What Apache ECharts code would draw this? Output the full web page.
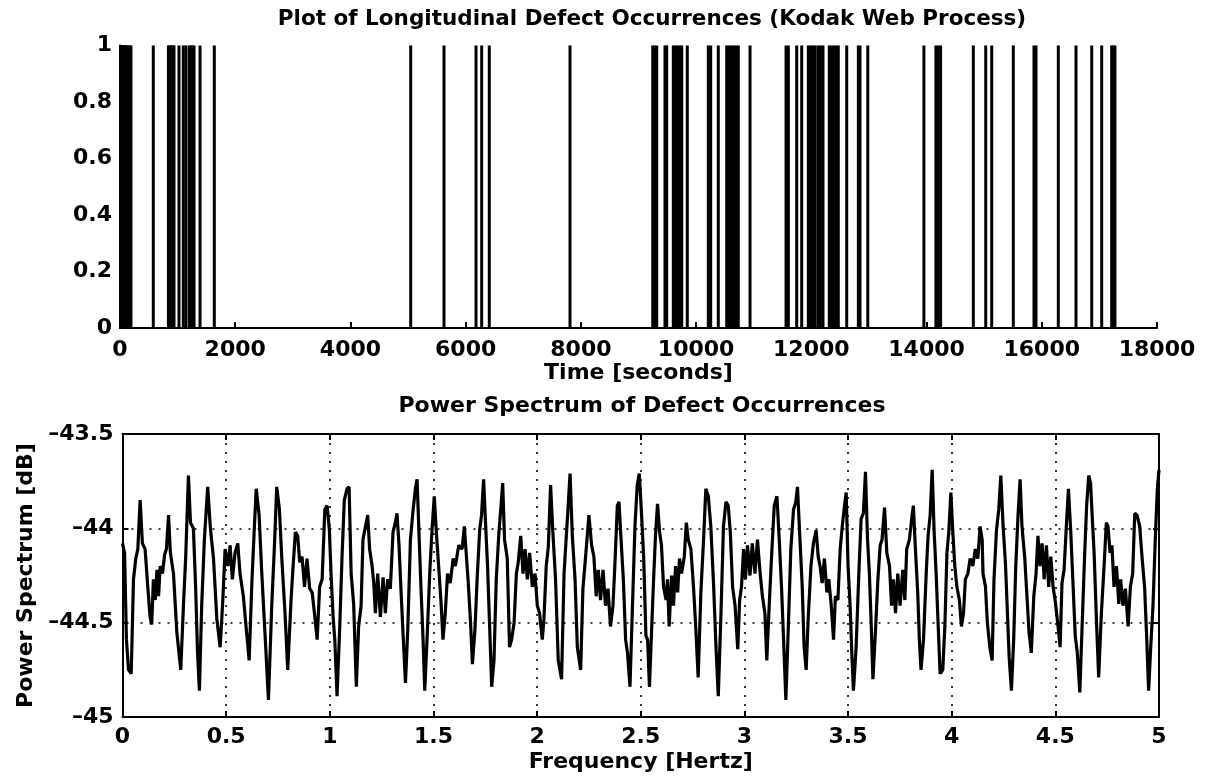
<!DOCTYPE html>
<html><head><meta charset="utf-8">
<script src="https://cdn.jsdelivr.net/npm/echarts/dist/echarts.min.js"></script>
<style>html,body{margin:0;padding:0;background:#fff}#c{width:1211px;height:778px}</style>
</head><body><div id="c"></div>
<script>
const topTitle = 'Plot of Longitudinal Defect Occurrences (Kodak Web Process)';
const bottomTitle = 'Power Spectrum of Defect Occurrences';
const topXName = 'Time [seconds]';
const bottomXName = 'Frequency [Hertz]';
const bottomYName = 'Power Spectrum [dB]';

// defect occurrence times (seconds), each drawn as a line of height 1
const defectTimes = [10, 30, 50, 70, 90, 110, 130, 150, 170, 190, 578, 840, 860, 880, 900, 920, 937, 1024, 1099, 1146, 1205, 1230, 1258, 1285, 1389, 1637, 5046, 5624, 6180, 6278, 6410, 7811, 9247, 9280, 9316, 9460, 9490, 9604, 9640, 9677, 9714, 9750, 9847, 10212, 10253, 10385, 10531, 10570, 10610, 10650, 10690, 10732, 10936, 11561, 11601, 11746, 11833, 11948, 11987, 12026, 12065, 12115, 12158, 12202, 12312, 12350, 12390, 12430, 12468, 12614, 12816, 12845, 12980, 13954, 14162, 14203, 14244, 14812, 15027, 15131, 15506, 15865, 15900, 16287, 16594, 16867, 17040, 17213, 17242, 17270];
const defectLevel = 1;

// power spectrum: [frequency Hz, power dB]
const spectrum = [
[0.000,-44.08],[0.010,-44.13],[0.019,-44.59],[0.029,-44.75],[0.042,-44.77],[0.053,-44.27],[0.064,-44.16],[0.074,-44.11],[0.085,-43.85],[0.096,-44.08],[0.109,-44.11],[0.122,-44.31],[0.133,-44.47],[0.141,-44.51],[0.149,-44.27],[0.158,-44.38],[0.166,-44.22],[0.174,-44.36],[0.182,-44.20],[0.193,-44.24],[0.203,-44.14],[0.212,-44.11],[0.222,-43.93],[0.231,-44.13],[0.246,-44.24],[0.262,-44.55],[0.281,-44.75],[0.294,-44.41],[0.305,-44.15],[0.318,-43.72],[0.328,-43.97],[0.342,-44.00],[0.353,-44.32],[0.362,-44.66],[0.371,-44.86],[0.382,-44.41],[0.395,-44.06],[0.411,-43.78],[0.424,-44.00],[0.439,-44.16],[0.455,-44.48],[0.471,-44.63],[0.484,-44.38],[0.495,-44.11],[0.508,-44.20],[0.519,-44.09],[0.530,-44.27],[0.543,-44.13],[0.556,-44.08],[0.567,-44.24],[0.583,-44.36],[0.596,-44.52],[0.611,-44.70],[0.624,-44.29],[0.635,-44.02],[0.645,-43.79],[0.659,-43.93],[0.672,-44.24],[0.688,-44.57],[0.704,-44.91],[0.720,-44.41],[0.733,-44.09],[0.744,-43.78],[0.757,-43.90],[0.768,-44.15],[0.784,-44.45],[0.797,-44.75],[0.813,-44.38],
[0.823,-44.20],[0.834,-44.02],[0.845,-44.04],[0.855,-44.18],[0.866,-44.15],[0.878,-44.31],[0.890,-44.16],[0.903,-44.32],[0.915,-44.34],[0.926,-44.45],[0.939,-44.59],[0.951,-44.31],[0.963,-44.27],[0.976,-43.90],[0.987,-43.88],[0.998,-44.01],[1.006,-44.24],[1.016,-44.47],[1.024,-44.59],[1.035,-44.89],[1.048,-44.52],[1.059,-44.15],[1.070,-43.85],[1.083,-43.79],[1.093,-43.78],[1.103,-44.24],[1.115,-44.40],[1.128,-44.84],[1.139,-44.52],[1.151,-44.41],[1.160,-44.06],[1.172,-43.99],[1.183,-43.93],[1.192,-44.11],[1.204,-44.20],[1.212,-44.29],[1.220,-44.45],[1.231,-44.24],[1.244,-44.47],[1.257,-44.26],[1.268,-44.45],[1.279,-44.27],[1.292,-44.32],[1.305,-44.02],[1.316,-43.97],[1.324,-43.92],[1.334,-44.09],[1.344,-44.34],[1.353,-44.55],[1.365,-44.82],[1.376,-44.54],[1.389,-44.06],[1.402,-43.90],[1.413,-43.79],[1.421,-43.74],[1.430,-44.02],[1.440,-44.32],[1.450,-44.59],[1.458,-44.86],[1.469,-44.59],[1.482,-44.24],[1.493,-44.01],[1.504,-43.83],[1.514,-44.02],[1.525,-44.20],[1.537,-44.40],[1.546,-44.59],[1.557,-44.45],[1.568,-44.24],[1.581,-44.29],[1.595,-44.16],[1.606,-44.20],[1.622,-44.09],[1.638,-44.11],[1.649,-43.99],
[1.668,-44.29],[1.679,-44.50],[1.688,-44.72],[1.700,-44.54],[1.712,-44.24],[1.723,-44.01],[1.732,-43.93],[1.742,-43.74],[1.752,-43.99],[1.761,-44.20],[1.771,-44.52],[1.781,-44.84],[1.792,-44.70],[1.803,-44.27],[1.816,-44.02],[1.826,-43.88],[1.834,-43.76],[1.843,-44.06],[1.856,-44.16],[1.867,-44.63],[1.877,-44.59],[1.889,-44.50],[1.900,-44.24],[1.909,-44.18],[1.921,-44.04],[1.932,-44.24],[1.942,-44.11],[1.953,-44.27],[1.964,-44.13],[1.977,-44.31],[1.990,-44.24],[2.001,-44.41],[2.012,-44.45],[2.025,-44.59],[2.033,-44.48],[2.044,-44.20],[2.054,-44.10],[2.065,-43.77],[2.076,-44.02],[2.089,-44.27],[2.102,-44.70],[2.118,-44.80],[2.130,-44.24],[2.141,-44.04],[2.150,-43.88],[2.159,-43.71],[2.170,-44.04],[2.183,-44.27],[2.194,-44.63],[2.210,-44.75],[2.221,-44.32],[2.234,-44.15],[2.250,-43.93],[2.263,-44.09],[2.274,-44.15],[2.285,-44.36],[2.295,-44.22],[2.306,-44.38],[2.318,-44.22],[2.330,-44.41],[2.342,-44.32],[2.354,-44.52],[2.366,-44.41],[2.375,-44.20],[2.387,-43.88],[2.395,-43.86],[2.404,-44.04],[2.416,-44.27],[2.427,-44.59],[2.436,-44.66],[2.448,-44.84],[2.459,-44.45],[2.472,-43.99],[2.483,-43.77],[2.493,-43.71],
[2.504,-43.93],[2.514,-44.15],[2.525,-44.57],[2.533,-44.59],[2.542,-44.84],[2.552,-44.55],[2.562,-44.27],[2.571,-44.04],[2.581,-43.87],[2.591,-44.02],[2.600,-44.09],[2.610,-44.31],[2.622,-44.38],[2.629,-44.27],[2.637,-44.52],[2.649,-44.25],[2.658,-44.41],[2.668,-44.20],[2.678,-44.34],[2.687,-44.16],[2.697,-44.24],[2.710,-44.15],[2.720,-43.97],[2.729,-44.06],[2.742,-44.11],[2.755,-44.32],[2.766,-44.54],[2.777,-44.79],[2.790,-44.34],[2.803,-44.06],[2.814,-43.79],[2.826,-43.83],[2.838,-43.99],[2.851,-44.29],[2.863,-44.63],[2.874,-44.89],[2.887,-44.45],[2.899,-43.99],[2.911,-43.86],[2.922,-43.88],[2.932,-44.02],[2.943,-44.31],[2.955,-44.41],[2.968,-44.64],[2.977,-44.38],[2.986,-44.31],[2.996,-44.11],[3.005,-44.27],[3.015,-44.09],[3.027,-44.25],[3.038,-44.08],[3.051,-44.24],[3.063,-44.06],[3.076,-44.24],[3.087,-44.36],[3.099,-44.45],[3.108,-44.70],[3.120,-44.40],[3.131,-44.15],[3.144,-43.88],[3.157,-43.83],[3.168,-44.06],[3.179,-44.31],[3.189,-44.59],[3.200,-44.91],[3.211,-44.55],[3.224,-44.11],[3.237,-43.90],[3.248,-43.86],[3.256,-43.78],[3.268,-44.06],[3.279,-44.31],[3.288,-44.63],[3.298,-44.75],[3.308,-44.47],[3.321,-44.20],
[3.333,-44.08],[3.346,-44.01],[3.356,-44.15],[3.365,-44.20],[3.375,-44.29],[3.386,-44.16],[3.398,-44.34],[3.407,-44.27],[3.419,-44.41],[3.430,-44.59],[3.439,-44.36],[3.451,-44.38],[3.462,-44.11],[3.472,-43.99],[3.483,-43.88],[3.491,-43.81],[3.500,-44.20],[3.510,-44.41],[3.518,-44.66],[3.526,-44.86],[3.539,-44.63],[3.552,-44.24],[3.563,-43.95],[3.574,-43.92],[3.584,-43.70],[3.594,-44.06],[3.603,-44.24],[3.613,-44.55],[3.620,-44.80],[3.632,-44.55],[3.644,-44.27],[3.655,-44.09],[3.664,-44.06],[3.676,-43.89],[3.687,-44.13],[3.700,-44.20],[3.710,-44.41],[3.719,-44.27],[3.729,-44.45],[3.740,-44.24],[3.751,-44.41],[3.764,-44.22],[3.774,-44.38],[3.783,-44.11],[3.796,-44.06],[3.809,-43.93],[3.815,-43.88],[3.825,-44.11],[3.836,-44.34],[3.844,-44.59],[3.852,-44.75],[3.864,-44.59],[3.877,-44.24],[3.886,-44.04],[3.896,-43.93],[3.906,-43.69],[3.915,-44.01],[3.925,-44.24],[3.935,-44.52],[3.944,-44.77],[3.957,-44.75],[3.967,-44.52],[3.977,-44.13],[3.986,-44.02],[3.996,-43.81],[4.005,-44.01],[4.015,-44.20],[4.025,-44.31],[4.037,-44.38],[4.047,-44.52],[4.057,-44.45],[4.066,-44.27],[4.078,-44.24],[4.089,-44.16],[4.102,-44.20],[4.114,-44.11],[4.126,-44.16],[4.137,-43.99],[4.147,-44.06],
[4.151,-44.24],[4.163,-44.31],[4.172,-44.50],[4.184,-44.63],[4.195,-44.70],[4.204,-44.27],[4.216,-44.01],[4.227,-43.90],[4.237,-43.72],[4.248,-43.99],[4.259,-44.18],[4.269,-44.45],[4.277,-44.68],[4.288,-44.86],[4.299,-44.59],[4.309,-44.20],[4.320,-43.93],[4.330,-43.74],[4.339,-43.99],[4.352,-44.15],[4.363,-44.36],[4.373,-44.55],[4.384,-44.66],[4.396,-44.36],[4.407,-44.24],[4.416,-44.04],[4.426,-44.20],[4.436,-44.08],[4.446,-44.27],[4.457,-44.09],[4.468,-44.31],[4.478,-44.15],[4.489,-44.31],[4.500,-44.39],[4.513,-44.52],[4.523,-44.63],[4.532,-44.29],[4.542,-44.22],[4.553,-43.99],[4.563,-43.79],[4.574,-44.01],[4.585,-44.29],[4.596,-44.57],[4.606,-44.66],[4.618,-44.87],[4.629,-44.52],[4.641,-44.15],[4.651,-43.88],[4.661,-43.72],[4.670,-43.76],[4.677,-43.92],[4.687,-44.13],[4.698,-44.48],[4.709,-44.79],[4.722,-44.45],[4.735,-44.20],[4.746,-43.97],[4.754,-43.99],[4.764,-44.13],[4.773,-44.09],[4.783,-44.31],[4.795,-44.20],[4.806,-44.40],[4.815,-44.27],[4.826,-44.41],[4.838,-44.32],[4.851,-44.52],[4.862,-44.31],[4.873,-44.24],[4.883,-43.92],[4.894,-43.93],[4.907,-43.99],[4.918,-44.15],[4.931,-44.32],[4.941,-44.59],[4.950,-44.86],[4.960,-44.63],[4.971,-44.41],[4.982,-44.06],[4.992,-43.79],[5.000,-43.69]
];

// axis ranges / tick steps
const timeRange = [0, 18000], timeStep = 2000;
const levelRange = [0, 1], levelStep = 0.2;
const freqRange = [0, 5], freqStep = 0.5;
const dbRange = [-45, -43.5], dbStep = 0.5;

const FONT = 'DejaVu Sans';
const txt = {color: '#000', fontFamily: FONT, fontWeight: 'bold', fontSize: 22};
const axLine = {show: true, onZero: false, lineStyle: {color: '#000', width: 2}};
const axTick = {show: true, inside: true, length: 6, lineStyle: {color: '#000', width: 2}};
const dotted = {show: true, lineStyle: {color: '#000', width: 1.6, type: [2, 7]}};
const plain = v => String(v);
const minus = v => String(v).replace('-', '\u2013');

const chart = echarts.init(document.getElementById('c'), null, {renderer: 'canvas'});
chart.setOption({
  animation: false,
  backgroundColor: '#fff',
  graphic: [
    {type: 'text', x: 652, y: 8, style: {text: topTitle, textAlign: 'center', textVerticalAlign: 'top', fill: '#000', font: 'bold 21.5px "DejaVu Sans"'}},
    {type: 'text', x: 642, y: 395, style: {text: bottomTitle, textAlign: 'center', textVerticalAlign: 'top', fill: '#000', font: 'bold 22px "DejaVu Sans"'}}
  ],
  grid: [
    {left: 120, right: 54, top: 45.5, height: 282.5},
    {left: 122.5, right: 52, top: 434, height: 283}
  ],
  xAxis: [
    {gridIndex: 0, type: 'value', min: timeRange[0], max: timeRange[1], interval: timeStep,
     axisLine: axLine, axisTick: axTick, splitLine: {show: false},
     axisLabel: Object.assign({margin: 11, formatter: plain}, txt),
     name: topXName, nameLocation: 'middle', nameGap: 33, nameTextStyle: txt},
    {gridIndex: 1, type: 'value', min: freqRange[0], max: freqRange[1], interval: freqStep,
     axisLine: axLine, axisTick: axTick, splitLine: dotted,
     axisLabel: Object.assign({margin: 9, formatter: plain}, txt),
     name: bottomXName, nameLocation: 'middle', nameGap: 34, nameTextStyle: txt},
    {gridIndex: 1, type: 'value', position: 'top', min: freqRange[0], max: freqRange[1], interval: freqStep,
     axisLine: axLine, axisTick: axTick, splitLine: {show: false}, axisLabel: {show: false}}
  ],
  yAxis: [
    {gridIndex: 0, type: 'value', min: levelRange[0], max: levelRange[1], interval: levelStep,
     axisLine: axLine, axisTick: axTick, splitLine: {show: false},
     axisLabel: Object.assign({margin: 8, formatter: plain}, txt)},
    {gridIndex: 1, type: 'value', min: dbRange[0], max: dbRange[1], interval: dbStep,
     axisLine: axLine, axisTick: axTick, splitLine: dotted,
     axisLabel: Object.assign({margin: 9, formatter: minus}, txt),
     name: bottomYName, nameLocation: 'middle', nameGap: 84, nameTextStyle: txt},
    {gridIndex: 1, type: 'value', position: 'right', min: dbRange[0], max: dbRange[1], interval: dbStep,
     axisLine: axLine, axisTick: axTick, splitLine: {show: false}, axisLabel: {show: false}}
  ],
  series: [
    {type: 'bar', xAxisIndex: 0, yAxisIndex: 0, barWidth: 3, silent: true,
     itemStyle: {color: '#000'}, data: defectTimes.map(t => [t, defectLevel])},
    {type: 'line', xAxisIndex: 1, yAxisIndex: 1, showSymbol: false, silent: true,
     lineStyle: {color: '#000', width: 3.2}, data: spectrum}
  ]
});
</script></body></html>
